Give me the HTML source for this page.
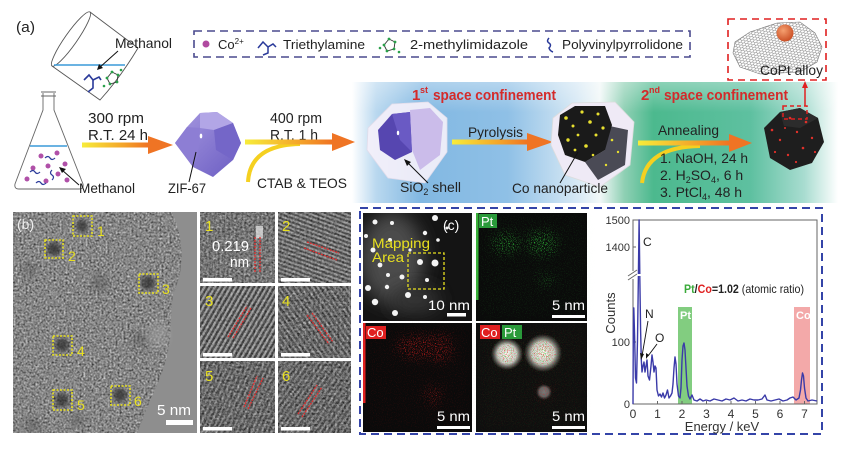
<!DOCTYPE html>
<html><head><meta charset="utf-8"><title>CoPt figure</title>
<style>
html,body{margin:0;padding:0;background:#fff;width:858px;height:454px;overflow:hidden}
svg{display:block}
text{font-family:"Liberation Sans",Arial,sans-serif}
</style></head><body>
<svg xmlns="http://www.w3.org/2000/svg" width="858" height="454" viewBox="0 0 858 454">
<defs>
 <linearGradient id="band" gradientUnits="userSpaceOnUse" x1="352" y1="0" x2="838" y2="0">
  <stop offset="0" stop-color="#ffffff"/>
  <stop offset="0.05" stop-color="#b9d8ef"/>
  <stop offset="0.14" stop-color="#82b8e2"/>
  <stop offset="0.32" stop-color="#8fc0e6"/>
  <stop offset="0.46" stop-color="#d4e7f4"/>
  <stop offset="0.51" stop-color="#f2f8f8"/>
  <stop offset="0.56" stop-color="#8fd0b4"/>
  <stop offset="0.62" stop-color="#4cb98e"/>
  <stop offset="0.82" stop-color="#5ec0a0"/>
  <stop offset="0.93" stop-color="#a8dcd0"/>
  <stop offset="1" stop-color="#ffffff"/>
 </linearGradient>
 <linearGradient id="bandTop" x1="0" y1="0" x2="0" y2="1">
  <stop offset="0" stop-color="#fff" stop-opacity="0.35"/>
  <stop offset="0.25" stop-color="#fff" stop-opacity="0"/>
 </linearGradient>
 <linearGradient id="ag" x1="0" x2="1" y1="0" y2="0">
  <stop offset="0" stop-color="#f7ec3a"/>
  <stop offset="0.6" stop-color="#f4a52a"/>
  <stop offset="1" stop-color="#ef6f22"/>
 </linearGradient>
 <linearGradient id="zif" x1="0" y1="0" x2="1" y2="1">
  <stop offset="0" stop-color="#a698e0"/>
  <stop offset="1" stop-color="#6a5cc2"/>
 </linearGradient>
 <radialGradient id="ball" cx="0.4" cy="0.35" r="0.7">
  <stop offset="0" stop-color="#f5a070"/>
  <stop offset="1" stop-color="#c84a20"/>
 </radialGradient>
 <radialGradient id="spot" cx="0.5" cy="0.5" r="0.5">
  <stop offset="0" stop-color="#ffffff" stop-opacity="1"/>
  <stop offset="0.6" stop-color="#e0e0e0" stop-opacity="0.9"/>
  <stop offset="1" stop-color="#888" stop-opacity="0"/>
 </radialGradient>
 <pattern id="hex" patternUnits="userSpaceOnUse" width="6" height="3.46" patternTransform="rotate(-15) scale(1,0.8)">
  <path d="M0,1.73 L1,0 L3,0 L4,1.73 L3,3.46 L1,3.46 Z M4,1.73 L6,1.73" fill="none" stroke="#555" stroke-width="0.45"/>
 </pattern>
 <filter id="tn" x="0" y="0" width="1" height="1" color-interpolation-filters="sRGB">
  <feTurbulence type="fractalNoise" baseFrequency="0.5" numOctaves="3" seed="7"/>
  <feColorMatrix type="matrix" values="0.7 0.7 0 0 -0.18  0.7 0.7 0 0 -0.18  0.7 0.7 0 0 -0.18  0 0 0 0 1"/>
 </filter>
 <filter id="tn2" x="0" y="0" width="1" height="1" color-interpolation-filters="sRGB">
  <feTurbulence type="fractalNoise" baseFrequency="0.45" numOctaves="2" seed="3"/>
  <feColorMatrix type="matrix" values="0.9 0.9 0 0 -0.5  0.9 0.9 0 0 -0.5  0.9 0.9 0 0 -0.5  0 0 0 0 1"/>
 </filter>
 <filter id="blur2"><feGaussianBlur stdDeviation="2"/></filter>
 <filter id="blur4"><feGaussianBlur stdDeviation="4"/></filter>
 <filter id="blur8" x="-50%" y="-50%" width="200%" height="200%"><feGaussianBlur stdDeviation="9"/></filter>
 <filter id="spG" filterUnits="userSpaceOnUse" x="0" y="0" width="858" height="454" color-interpolation-filters="sRGB">
  <feGaussianBlur in="SourceGraphic" stdDeviation="5" result="b"/>
  <feTurbulence type="fractalNoise" baseFrequency="1.1" numOctaves="1" seed="4" result="n"/>
  <feColorMatrix in="n" type="matrix" values="0 0 0 0 0.2  0 0 0 0 0.85  0 0 0 0 0.25  5 0 0 0 -2.6" result="s"/>
  <feComposite in="s" in2="b" operator="in"/>
 </filter>
 <filter id="spR" filterUnits="userSpaceOnUse" x="0" y="0" width="858" height="454" color-interpolation-filters="sRGB">
  <feGaussianBlur in="SourceGraphic" stdDeviation="5" result="b"/>
  <feTurbulence type="fractalNoise" baseFrequency="1.1" numOctaves="1" seed="19" result="n"/>
  <feColorMatrix in="n" type="matrix" values="0 0 0 0 0.9  0 0 0 0 0.12  0 0 0 0 0.12  5 0 0 0 -2.6" result="s"/>
  <feComposite in="s" in2="b" operator="in"/>
 </filter>
 <pattern id="s1" patternUnits="userSpaceOnUse" width="4.5" height="10"><rect width="4.5" height="10" fill="#7c7c7c"/><rect width="2" height="10" fill="#989898"/></pattern>
 <pattern id="s2" patternUnits="userSpaceOnUse" width="4" height="10" patternTransform="rotate(-70)"><rect width="4" height="10" fill="#474747"/><rect width="2" height="10" fill="#a8a8a8"/></pattern>
 <pattern id="s3" patternUnits="userSpaceOnUse" width="4.5" height="10" patternTransform="rotate(30)"><rect width="4.5" height="10" fill="#3e3e3e"/><rect width="2.2" height="10" fill="#b0b0b0"/></pattern>
 <pattern id="s4" patternUnits="userSpaceOnUse" width="4.5" height="10" patternTransform="rotate(-35)"><rect width="4.5" height="10" fill="#4a4a4a"/><rect width="2" height="10" fill="#a0a0a0"/></pattern>
 <pattern id="s5" patternUnits="userSpaceOnUse" width="4.5" height="10" patternTransform="rotate(25)"><rect width="4.5" height="10" fill="#505050"/><rect width="2" height="10" fill="#959595"/></pattern>
 <pattern id="s6" patternUnits="userSpaceOnUse" width="4.5" height="10" patternTransform="rotate(35)"><rect width="4.5" height="10" fill="#4e4e4e"/><rect width="2" height="10" fill="#969696"/></pattern>
 <clipPath id="temClip"><path d="M13,212 L172,212 C182,235 186,262 175,290 C170,300 172,320 170,340 C168,358 160,380 150,400 C145,415 140,425 137,433 L13,433 Z"/></clipPath>
 <clipPath id="sheet"><path d="M735,42 L750,32 L777,23 L800,22 L815,33 L822,47 L817,62 L800,72 L760,74 L740,67 L733,53 Z"/></clipPath>
 <clipPath id="stemClip"><rect x="363" y="213" width="109" height="108"/></clipPath>
</defs>

<rect width="858" height="454" fill="#fff"/>

<!-- ===== (a) top ===== -->
<rect x="352" y="82" width="486" height="121" fill="url(#band)"/>
<rect x="352" y="82" width="486" height="121" fill="url(#bandTop)"/>

<text x="16" y="32" font-size="15" textLength="19" lengthAdjust="spacingAndGlyphs" fill="#222">(a)</text>

<!-- beaker -->
<g stroke="#555" stroke-width="0.9" fill="none">
 <ellipse cx="71" cy="39" rx="33" ry="6" transform="rotate(-54.9 71 39)" fill="#fff"/>
 <path d="M52,66 L100,100 Q120,78 138,48 L90,12"/>
</g>
<line x1="54" y1="65" x2="125" y2="65" stroke="#3a9ad8" stroke-width="1.6"/>
<polyline points="84,80 89,75 93,80 93,88 88,92" fill="none" stroke="#2a3a9a" stroke-width="1.6"/>
<polyline points="93,80 99,77 101,80" fill="none" stroke="#2a3a9a" stroke-width="1.6"/>
<g stroke="#333" stroke-width="0.9" fill="none"><path d="M107,78 L112,72 L118,75 L117,82 L110,84 Z"/></g>
<g fill="#2aa04a"><circle cx="107" cy="78" r="1.4"/><circle cx="112" cy="72" r="1.4"/><circle cx="118" cy="75" r="1.4"/><circle cx="117" cy="82" r="1.4"/><circle cx="110" cy="84" r="1.4"/><circle cx="104" cy="86" r="1.3"/><circle cx="121" cy="70" r="1.3"/></g>
<text x="115" y="48" font-size="14" textLength="57" lengthAdjust="spacingAndGlyphs" fill="#222">Methanol</text>
<line x1="118" y1="51" x2="99" y2="68" stroke="#111" stroke-width="1"/>
<polygon points="97,70 99,64 103,68" fill="#111"/>

<!-- flask -->
<g stroke="#666" stroke-width="0.9" fill="none">
 <path d="M41,92 H56 M41,96 H56"/>
 <path d="M43,93 V110 L15,184 Q14,189 19,189 L79,189 Q84,189 83,184 L54,110 V93"/>
</g>
<line x1="30" y1="146" x2="67" y2="146" stroke="#3a9ad8" stroke-width="1.6"/>
<g fill="#b050a8"><circle cx="41" cy="156" r="2.5"/><circle cx="57" cy="153" r="2.5"/><circle cx="65" cy="164" r="2.5"/><circle cx="33" cy="168" r="2.5"/><circle cx="48" cy="166" r="2.5"/><circle cx="27" cy="179" r="2.5"/><circle cx="46" cy="181" r="2.5"/><circle cx="58" cy="174" r="2.5"/><circle cx="67" cy="180" r="2.5"/></g>
<g fill="none" stroke="#2a3a9a" stroke-width="1.2"><path d="M45,158 q3,-3 5,0 t5,0"/><path d="M30,172 q3,-3 5,0 t5,0"/><path d="M52,170 q-3,3 0,5 t0,5"/><path d="M36,183 q3,-3 5,0 t5,0"/></g>
<text x="79" y="193" font-size="14" textLength="56" lengthAdjust="spacingAndGlyphs" fill="#222">Methanol</text>
<line x1="79" y1="185" x2="62" y2="170" stroke="#111" stroke-width="1"/>
<polygon points="59,167 66,169 62,173" fill="#111"/>

<!-- arrow 1 -->
<text x="88" y="123" font-size="15" textLength="56" lengthAdjust="spacingAndGlyphs" fill="#222">300 rpm</text>
<text x="88" y="140" font-size="15" textLength="60" lengthAdjust="spacingAndGlyphs" fill="#222">R.T. 24 h</text>
<rect x="82" y="142.5" width="68" height="5" fill="url(#ag)"/>
<polygon points="148,136 173,145 148,154" fill="#ef7424"/>

<!-- ZIF-67 -->
<polygon points="175,143 187,127 200,113 217,112 233,123 241,143 233,160 213,177 193,167" fill="url(#zif)"/>
<polygon points="200,113 217,112 233,123 214,130 200,128" fill="#b2a6e6"/>
<polygon points="175,143 187,127 200,128 198,155 193,167" fill="#8d7ed4"/>
<polygon points="214,130 233,123 241,143 233,160 216,150" fill="#7466c8"/>
<ellipse cx="201" cy="136" rx="1.3" ry="2.4" fill="#fff"/>
<line x1="189" y1="182" x2="196" y2="152" stroke="#111" stroke-width="1"/>
<text x="168" y="193" font-size="14" textLength="38" lengthAdjust="spacingAndGlyphs" fill="#222">ZIF-67</text>

<!-- arrow 2 -->
<text x="270" y="123" font-size="15" textLength="52" lengthAdjust="spacingAndGlyphs" fill="#222">400 rpm</text>
<text x="270" y="140" font-size="15" textLength="48" lengthAdjust="spacingAndGlyphs" fill="#222">R.T. 1 h</text>
<path d="M248,182 Q250,145 300,144" fill="none" stroke="#f5d020" stroke-width="4"/>
<rect x="245" y="139.5" width="90" height="5" fill="url(#ag)"/>
<polygon points="332,133 355,142 332,151" fill="#ef7424"/>
<text x="257" y="188" font-size="14" textLength="90" lengthAdjust="spacingAndGlyphs" fill="#222">CTAB &amp; TEOS</text>

<!-- legend -->
<rect x="194" y="31" width="496" height="26" fill="none" stroke="#4a4a8e" stroke-width="1.6" stroke-dasharray="8 5"/>
<circle cx="206" cy="44" r="3.5" fill="#b04aa0"/>
<text x="218" y="49" font-size="13" fill="#222">Co<tspan font-size="8" dy="-5">2+</tspan></text>
<polyline points="258,48 263,42 268,47 268,53 263,55" fill="none" stroke="#2a3a9a" stroke-width="1.5"/>
<polyline points="268,47 273,44 276,47" fill="none" stroke="#2a3a9a" stroke-width="1.5"/>
<text x="283" y="49" font-size="13" textLength="82" lengthAdjust="spacingAndGlyphs" fill="#222">Triethylamine</text>
<g stroke="#333" stroke-width="0.9" fill="none"><path d="M384,45 L389,39 L395,42 L394,49 L387,51 Z"/></g>
<g fill="#2aa04a"><circle cx="384" cy="45" r="1.4"/><circle cx="389" cy="39" r="1.4"/><circle cx="395" cy="42" r="1.4"/><circle cx="394" cy="49" r="1.4"/><circle cx="387" cy="51" r="1.4"/><circle cx="380" cy="48" r="1.3"/><circle cx="399" cy="52" r="1.3"/></g>
<text x="410" y="49" font-size="13" textLength="118" lengthAdjust="spacingAndGlyphs" fill="#222">2-methylimidazole</text>
<path d="M549,38 q-3,3 0,5 t0,5 q1,3 4,4" fill="none" stroke="#2a3a9a" stroke-width="1.5"/>
<text x="562" y="49" font-size="13" textLength="121" lengthAdjust="spacingAndGlyphs" fill="#222">Polyvinylpyrrolidone</text>

<!-- 1st confinement -->
<text x="412" y="100" font-size="15" font-weight="bold" fill="#d42a2a">1</text>
<text x="420" y="93" font-size="9" font-weight="bold" fill="#d42a2a">st</text>
<text x="433" y="100" font-size="15" font-weight="bold" textLength="123" lengthAdjust="spacingAndGlyphs" fill="#d42a2a">space confinement</text>

<!-- SiO2 particle -->
<polygon points="368,128 392,104 428,102 447,118 447,152 425,183 388,178 367,150" fill="#f4f0fa" fill-opacity="0.92" stroke="#e0dcea" stroke-width="0.8"/>
<polygon points="410,110 430,108 443,122 440,155 420,170 412,150" fill="#cbbcea"/>
<polygon points="378,130 392,114 410,112 412,152 395,160 380,150" fill="#5646b0"/>
<polygon points="392,114 410,112 412,152 400,140" fill="#6a5ac4"/>
<ellipse cx="398" cy="133" rx="1.2" ry="2.2" fill="#fff"/>
<line x1="428" y1="183" x2="407" y2="162" stroke="#111" stroke-width="1"/>
<polygon points="404,159 411,162 407,166" fill="#111"/>
<text x="400" y="192" font-size="14" fill="#222">SiO<tspan font-size="9" dy="3">2</tspan><tspan dy="-3"> shell</tspan></text>

<!-- pyrolysis arrow -->
<text x="468" y="137" font-size="14" textLength="55" lengthAdjust="spacingAndGlyphs" fill="#222">Pyrolysis</text>
<rect x="452" y="139.5" width="78" height="5" fill="url(#ag)"/>
<polygon points="527,133 553,142 527,151" fill="#ef7424"/>

<!-- Co nanoparticle -->
<polygon points="553,118 572,103 615,102 634,122 630,165 600,187 565,175 551,145" fill="#efeaf6" stroke="#ddd" stroke-width="0.8"/>
<polygon points="605,125 628,130 625,165 598,180 585,162 605,150" fill="#4a4a55"/>
<polygon points="560,115 575,106 605,106 612,125 605,150 585,162 565,155 558,135" fill="#1a1a1a"/>
<g fill="#e8e030"><circle cx="566" cy="118" r="1.8"/><circle cx="573" cy="126" r="1.5"/><circle cx="582" cy="112" r="1.6"/><circle cx="590" cy="122" r="1.8"/><circle cx="598" cy="114" r="1.5"/><circle cx="568" cy="140" r="1.7"/><circle cx="578" cy="135" r="1.4"/><circle cx="586" cy="146" r="1.8"/><circle cx="596" cy="135" r="1.5"/><circle cx="603" cy="128" r="1.6"/><circle cx="575" cy="150" r="1.4"/><circle cx="593" cy="155" r="1.3"/><circle cx="612" cy="140" r="1.3"/><circle cx="618" cy="152" r="1.2"/><circle cx="606" cy="165" r="1.2"/></g>
<line x1="560" y1="183" x2="578" y2="152" stroke="#111" stroke-width="1"/>
<text x="512" y="193" font-size="14" textLength="96" lengthAdjust="spacingAndGlyphs" fill="#222">Co nanoparticle</text>

<!-- 2nd confinement -->
<text x="641" y="100" font-size="15" font-weight="bold" fill="#d42a2a">2</text>
<text x="649" y="93" font-size="9" font-weight="bold" fill="#d42a2a">nd</text>
<text x="664" y="100" font-size="15" font-weight="bold" textLength="124" lengthAdjust="spacingAndGlyphs" fill="#d42a2a">space confinement</text>

<!-- annealing arrow -->
<text x="658" y="135" font-size="14" textLength="61" lengthAdjust="spacingAndGlyphs" fill="#222">Annealing</text>
<path d="M642,183 Q646,147 700,146" fill="none" stroke="#f5d020" stroke-width="4"/>
<rect x="638" y="140.5" width="94" height="5" fill="url(#ag)"/>
<polygon points="729,134 752,143 729,152" fill="#ef7424"/>
<text x="660" y="163" font-size="14" textLength="88" lengthAdjust="spacingAndGlyphs" fill="#222">1. NaOH, 24 h</text>
<text x="660" y="180" font-size="14" fill="#222">2. H<tspan font-size="9" dy="3">2</tspan><tspan dy="-3">SO</tspan><tspan font-size="9" dy="3">4</tspan><tspan dy="-3">, 6 h</tspan></text>
<text x="660" y="197" font-size="14" fill="#222">3. PtCl<tspan font-size="9" dy="3">4</tspan><tspan dy="-3">, 48 h</tspan></text>

<!-- dark particle -->
<polygon points="764,128 780,112 800,108 818,118 824,142 812,163 790,170 770,158" fill="#1e1e1e"/>
<polygon points="780,112 800,108 818,118 800,128 784,126" fill="#2c2c2c"/>
<g fill="#e0302a"><circle cx="772" cy="130" r="1.3"/><circle cx="780" cy="140" r="1.2"/><circle cx="790" cy="118" r="1.3"/><circle cx="797" cy="132" r="1.2"/><circle cx="806" cy="122" r="1.3"/><circle cx="812" cy="138" r="1.2"/><circle cx="803" cy="148" r="1.3"/><circle cx="788" cy="155" r="1.2"/><circle cx="775" cy="152" r="1.1"/><circle cx="815" cy="152" r="1.1"/><circle cx="796" cy="162" r="1.1"/><circle cx="785" cy="128" r="1"/></g>
<rect x="783" y="106" width="24" height="13" fill="none" stroke="#e02020" stroke-width="1.5" stroke-dasharray="4 3"/>
<line x1="805" y1="106" x2="805" y2="86" stroke="#e02020" stroke-width="1.5"/>
<polygon points="802,88 805,81 808,88" fill="#e02020"/>

<!-- CoPt alloy box -->
<rect x="728" y="19" width="98" height="61" fill="#fff" stroke="#e02020" stroke-width="1.6" stroke-dasharray="7 5"/>
<g clip-path="url(#sheet)"><rect x="728" y="19" width="98" height="61" fill="url(#hex)"/></g>
<path d="M735,42 L750,32 L777,23 L800,22 L815,33 L822,47 L817,62 L800,72 L760,74 L740,67 L733,53 Z" fill="none" stroke="#777" stroke-width="0.6"/>
<circle cx="785" cy="33" r="8.5" fill="url(#ball)"/>
<text x="760" y="75" font-size="14" textLength="63" lengthAdjust="spacingAndGlyphs" fill="#222">CoPt alloy</text>

<!-- ===== (b) TEM ===== -->
<rect x="13" y="212" width="184" height="221" fill="#8e8e8e"/>
<g clip-path="url(#temClip)">
 <rect x="13" y="212" width="184" height="221" fill="#888888"/>
 <rect x="13" y="212" width="184" height="221" filter="url(#tn)" opacity="0.8"/>
 <g fill="#555" opacity="0.45" filter="url(#blur4)">
  <circle cx="100" cy="283" r="9"/><circle cx="30" cy="270" r="7"/><circle cx="140" cy="340" r="8"/><circle cx="33" cy="425" r="8"/><circle cx="78" cy="420" r="7"/>
 </g>
 <g fill="#2e2e2e" opacity="0.75" filter="url(#blur2)">
  <circle cx="82" cy="226" r="6"/><circle cx="54" cy="249" r="7"/><circle cx="148" cy="283" r="7"/>
  <circle cx="62" cy="345" r="7"/><circle cx="62" cy="400" r="7"/><circle cx="120" cy="395" r="7"/>
 </g>
</g>
<ellipse cx="158" cy="335" rx="12" ry="14" fill="#a0a0a0" opacity="0.5" filter="url(#blur4)"/>
<text x="17" y="229" font-size="14" fill="#eeeeee">(b)</text>
<g fill="none" stroke="#e8e020" stroke-width="1.6" stroke-dasharray="2 1.5">
 <rect x="73" y="216" width="19" height="20"/>
 <rect x="45" y="240" width="18" height="18"/>
 <rect x="139" y="274" width="19" height="19"/>
 <rect x="53" y="336" width="19" height="19"/>
 <rect x="53" y="390" width="19" height="20"/>
 <rect x="111" y="386" width="19" height="19"/>
</g>
<g fill="#e8e020" font-size="14">
 <text x="97" y="236">1</text><text x="68" y="261">2</text><text x="162" y="294">3</text>
 <text x="77" y="356">4</text><text x="77" y="410">5</text><text x="134" y="406">6</text>
</g>
<text x="157" y="415" font-size="15" textLength="34" lengthAdjust="spacingAndGlyphs" fill="#fff">5 nm</text>
<rect x="166" y="420" width="27" height="5" fill="#fff"/>

<!-- HRTEM small panels -->
<g>
 <rect x="200" y="212" width="75" height="71" fill="url(#s1)"/>
 <rect x="200" y="212" width="75" height="71" filter="url(#tn2)" opacity="0.55"/>
 <rect x="278" y="212" width="73" height="71" fill="url(#s2)"/>
 <rect x="278" y="212" width="73" height="71" filter="url(#tn2)" opacity="0.4"/>
 <rect x="200" y="286" width="75" height="72" fill="url(#s3)"/>
 <rect x="200" y="286" width="75" height="72" filter="url(#tn2)" opacity="0.3"/>
 <rect x="278" y="286" width="73" height="72" fill="url(#s4)"/>
 <rect x="278" y="286" width="73" height="72" filter="url(#tn2)" opacity="0.5"/>
 <rect x="200" y="361" width="75" height="72" fill="url(#s5)"/>
 <rect x="200" y="361" width="75" height="72" filter="url(#tn2)" opacity="0.5"/>
 <rect x="278" y="361" width="73" height="72" fill="url(#s6)"/>
 <rect x="278" y="361" width="73" height="72" filter="url(#tn2)" opacity="0.5"/>
</g>
<rect x="256" y="226" width="7" height="12" fill="#e8e8e8" opacity="0.7"/>
<g stroke="#e03030" stroke-width="1.3" stroke-dasharray="2 1" fill="none">
 <line x1="255" y1="237" x2="255" y2="272"/><line x1="260" y1="237" x2="260" y2="272"/>
 <line x1="307" y1="242" x2="339" y2="253"/><line x1="304" y1="248" x2="337" y2="260"/>
 <line x1="228" y1="337" x2="247" y2="306"/><line x1="233" y1="338" x2="251" y2="308"/>
 <line x1="307" y1="315" x2="329" y2="344"/><line x1="312" y1="313" x2="333" y2="342"/>
 <line x1="244" y1="407" x2="257" y2="376"/><line x1="248" y1="409" x2="263" y2="378"/>
 <line x1="298" y1="414" x2="317" y2="385"/><line x1="302" y1="417" x2="322" y2="387"/>
</g>
<g fill="#e8e020" font-size="15">
 <text x="205" y="231">1</text><text x="282" y="231">2</text>
 <text x="205" y="306">3</text><text x="282" y="306">4</text>
 <text x="205" y="381">5</text><text x="282" y="381">6</text>
</g>
<text x="212" y="251" font-size="15" textLength="37" lengthAdjust="spacingAndGlyphs" fill="#fff">0.219</text>
<text x="230" y="267" font-size="15" textLength="19" lengthAdjust="spacingAndGlyphs" fill="#fff">nm</text>
<g fill="#fff">
 <rect x="203" y="278" width="29" height="3.5"/><rect x="281" y="278" width="29" height="3.5"/>
 <rect x="203" y="353" width="29" height="3.5"/><rect x="281" y="353" width="29" height="3.5"/>
 <rect x="203" y="427" width="29" height="3.5"/><rect x="281" y="427" width="29" height="3.5"/>
</g>

<!-- ===== (c) ===== -->
<rect x="360" y="208" width="462" height="226" fill="none" stroke="#3444a8" stroke-width="2" stroke-dasharray="8 5"/>

<!-- STEM -->
<rect x="363" y="213" width="109" height="108" fill="#141414"/>
<g clip-path="url(#stemClip)">
 <ellipse cx="392" cy="258" rx="32" ry="46" fill="#4c4c4c" filter="url(#blur8)"/>
 <ellipse cx="415" cy="300" rx="26" ry="14" fill="#363636" filter="url(#blur8)"/>
</g>
<g fill="#f4f4f4">
 <circle cx="375" cy="222" r="2.5"/><circle cx="392" cy="223" r="2"/><circle cx="435" cy="218" r="3"/><circle cx="425" cy="233" r="2.2"/>
 <circle cx="390" cy="240" r="2"/><circle cx="373" cy="250" r="2.5"/><circle cx="420" cy="262" r="3"/><circle cx="435" cy="263" r="3.5"/>
 <circle cx="402" cy="277" r="2.5"/><circle cx="427" cy="280" r="2"/><circle cx="368" cy="288" r="3"/><circle cx="387" cy="287" r="2.2"/>
 <circle cx="408" cy="295" r="3"/><circle cx="425" cy="297" r="2"/><circle cx="375" cy="302" r="3.2"/><circle cx="395" cy="313" r="3"/>
 <circle cx="388" cy="275" r="2"/><circle cx="438" cy="240" r="1.8"/><circle cx="410" cy="250" r="1.6"/><circle cx="380" cy="265" r="2.4"/>
 <circle cx="366" cy="236" r="2"/><circle cx="447" cy="228" r="1.5"/>
</g>
<text x="443" y="230" font-size="14" fill="#fff">(c)</text>
<text x="372" y="248" font-size="14" textLength="58" lengthAdjust="spacingAndGlyphs" fill="#e8e020">Mapping</text>
<text x="372" y="262" font-size="14" textLength="32" lengthAdjust="spacingAndGlyphs" fill="#e8e020">Area</text>
<rect x="408" y="253" width="36" height="36" fill="none" stroke="#e8e020" stroke-width="1.3" stroke-dasharray="3 2"/>
<text x="428" y="310" font-size="14" textLength="42" lengthAdjust="spacingAndGlyphs" fill="#fff">10 nm</text>
<rect x="447" y="313" width="19" height="3.5" fill="#fff"/>

<!-- Pt map -->
<rect x="476" y="213" width="111" height="108" fill="#0a0a0a"/>
<g filter="url(#spG)">
 <ellipse cx="506" cy="243" rx="13" ry="10" fill="#fff"/>
 <ellipse cx="542" cy="243" rx="15" ry="12" fill="#fff"/>
 <ellipse cx="546" cy="280" rx="8" ry="6" fill="#fff" opacity="0.6"/>
 <rect x="478" y="215" width="107" height="104" fill="#fff" opacity="0.12"/>
</g>
<rect x="476" y="213" width="2.5" height="87" fill="#3ab03a"/>
<rect x="479" y="214" width="18" height="14" fill="#2a9a3a"/>
<text x="481" y="226" font-size="13" fill="#fff">Pt</text>
<text x="552" y="310" font-size="14" textLength="33" lengthAdjust="spacingAndGlyphs" fill="#fff">5 nm</text>
<rect x="552" y="315" width="33" height="3" fill="#fff"/>

<!-- Co map -->
<rect x="363" y="323" width="109" height="109" fill="#0a0a0a"/>
<g filter="url(#spR)">
 <ellipse cx="418" cy="347" rx="22" ry="11" fill="#fff"/>
 <ellipse cx="440" cy="348" rx="12" ry="14" fill="#fff"/>
 <ellipse cx="433" cy="395" rx="9" ry="10" fill="#fff" opacity="0.7"/>
 <rect x="365" y="325" width="105" height="105" fill="#fff" opacity="0.12"/>
</g>
<rect x="363" y="323" width="2.5" height="80" fill="#e02020"/>
<rect x="366" y="326" width="20" height="13" fill="#e02020"/>
<text x="367" y="337" font-size="13" fill="#fff">Co</text>
<text x="437" y="421" font-size="14" textLength="33" lengthAdjust="spacingAndGlyphs" fill="#fff">5 nm</text>
<rect x="437" y="426" width="33" height="3" fill="#fff"/>

<!-- Co+Pt overlay -->
<rect x="476" y="323" width="111" height="109" fill="#0e0e0e"/>
<circle cx="507" cy="354" r="16" fill="url(#spot)"/>
<circle cx="543" cy="353" r="19" fill="url(#spot)"/>
<circle cx="544" cy="392" r="8" fill="url(#spot)" opacity="0.45"/>
<g filter="url(#spG)" opacity="0.9">
 <circle cx="507" cy="354" r="10" fill="#fff"/><circle cx="543" cy="353" r="13" fill="#fff"/>
 <rect x="478" y="325" width="107" height="105" fill="#fff" opacity="0.1"/>
</g>
<g filter="url(#spR)" opacity="0.9">
 <circle cx="507" cy="354" r="10" fill="#fff"/><circle cx="543" cy="353" r="13" fill="#fff"/><circle cx="544" cy="392" r="6" fill="#fff"/>
 <rect x="478" y="325" width="107" height="105" fill="#fff" opacity="0.1"/>
</g>
<rect x="480" y="325" width="20" height="14" fill="#e02020"/>
<text x="481" y="337" font-size="13" fill="#fff">Co</text>
<rect x="502" y="325" width="20" height="14" fill="#2a9a3a"/>
<text x="504" y="337" font-size="13" fill="#fff">Pt</text>
<text x="552" y="421" font-size="14" textLength="33" lengthAdjust="spacingAndGlyphs" fill="#fff">5 nm</text>
<rect x="552" y="426" width="33" height="3" fill="#fff"/>

<!-- EDS plot -->
<rect x="678" y="307" width="14" height="97" fill="#6cc46a" opacity="0.85"/>
<rect x="794" y="307" width="16" height="97" fill="#f2a0a0" opacity="0.9"/>
<text x="680" y="319" font-size="11" font-weight="bold" fill="#fff">Pt</text>
<text x="796" y="319" font-size="11" font-weight="bold" fill="#fff">Co</text>
<rect x="633" y="220" width="184" height="184" fill="none" stroke="#666" stroke-width="1"/>
<rect x="629" y="271" width="8" height="8" fill="#fff"/>
<g stroke="#666" stroke-width="1"><line x1="628" y1="276" x2="637" y2="270"/><line x1="628" y1="280" x2="637" y2="274"/></g>
<g stroke="#666" stroke-width="1">
 <line x1="657.5" y1="404" x2="657.5" y2="401"/><line x1="682" y1="404" x2="682" y2="401"/><line x1="706.5" y1="404" x2="706.5" y2="401"/>
 <line x1="731" y1="404" x2="731" y2="401"/><line x1="755.5" y1="404" x2="755.5" y2="401"/><line x1="780" y1="404" x2="780" y2="401"/><line x1="804.5" y1="404" x2="804.5" y2="401"/>
 <line x1="633" y1="342" x2="636" y2="342"/><line x1="633" y1="247" x2="636" y2="247"/>
</g>
<g fill="none" stroke="#3a3aa8" stroke-width="1.4" stroke-linejoin="round">
 <polyline points="633,404 633.3,330 633.8,308 634.6,336 635.5,378 636.5,383 637.5,340 638.4,276"/>
 <polyline points="638.4,274 639.1,220 639.8,274"/>
 <polyline points="639.8,276 640.6,330 641.3,360 642,372 643,366 644,362 645,372 646,366 647,360 648,376 649.5,380 651,366 652,355 653,362 654,372 655,366 656,368 657,390 658.5,396 660,394 661.5,397 663,393 664.5,398 666,395 667.5,390 669,398 670.5,396 672,393 673,384 674,368 675,357 676,364 677,384 678.5,396 680,398 681,388 682,360 683,346 684,343 685,350 686,368 687,386 688.5,396 690,399 692,395 694,400 697,401 700,399 703,401 706,400 710,401 714,399 718,400 722,401 726,399 730,400 734,398 738,401 742,400 746,401 750,399 754,400 758,400 762,399 765,395 767,400 771,401 775,400 779,399 783,401 787,400 790,398 793,397 796,400 799,398 800.5,390 801.5,380 802.5,373 803.5,376 804.5,388 806,398 808,401 812,400 817,401"/>
</g>
<g font-size="11" fill="#333" text-anchor="end">
 <text x="630" y="224">1500</text><text x="630" y="251">1400</text><text x="630" y="346">100</text><text x="630" y="408">0</text>
</g>
<g font-size="12" fill="#333" text-anchor="middle">
 <text x="633" y="418">0</text><text x="657.5" y="418">1</text><text x="682" y="418">2</text><text x="706.5" y="418">3</text>
 <text x="731" y="418">4</text><text x="755.5" y="418">5</text><text x="780" y="418">6</text><text x="804.5" y="418">7</text>
</g>
<text x="722" y="431" font-size="13" text-anchor="middle" fill="#333">Energy / keV</text>
<text x="0" y="0" font-size="13" text-anchor="middle" fill="#333" transform="translate(615 313) rotate(-90)">Counts</text>
<text x="643" y="246" font-size="12" fill="#222">C</text>
<text x="645" y="318" font-size="12" fill="#222">N</text>
<text x="655" y="342" font-size="12" fill="#222">O</text>
<g stroke="#111" stroke-width="0.9"><line x1="648" y1="321" x2="642" y2="356"/><line x1="657" y1="344" x2="648" y2="356"/></g>
<polygon points="641,360 640,353 644,354" fill="#111"/>
<polygon points="646,359 646,353 649,355" fill="#111"/>
<text x="684" y="293" font-size="12" fill="#222" textLength="120" lengthAdjust="spacingAndGlyphs"><tspan font-weight="bold" fill="#3aaa3a">Pt</tspan><tspan font-weight="bold">/</tspan><tspan font-weight="bold" fill="#e02020">Co</tspan><tspan font-weight="bold">=1.02</tspan> (atomic ratio)</text>
</svg>
</body></html>
